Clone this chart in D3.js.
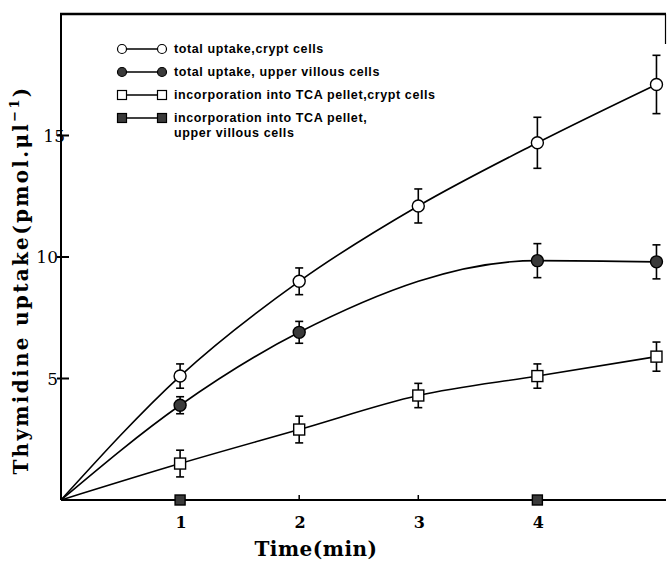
<!DOCTYPE html>
<html>
<head>
<meta charset="utf-8">
<script src="https://d3js.org/d3.v7.min.js"></script>
<style>
  body { margin: 0; background: #fff; }
  svg { display: block; }
</style>
</head>
<body>
<div id="chart"></div>
<script>
// time points (min)
const times = [0, 1, 2, 3, 4, 5];
const xTicks = [1, 2, 3, 4];
const yTicks = [5, 10, 15];

// total uptake, crypt cells
const crypt = [0, 5.1, 9.0, 12.1, 14.7, 17.1];
const cryptErr = [0, 0.5, 0.55, 0.7, 1.05, 1.2];
// total uptake, upper villous cells (no marker at 3 min)
const villTimes = [0, 1, 2, 4, 5];
const vill = [0, 3.9, 6.9, 9.85, 9.8];
const villErr = [0, 0.35, 0.45, 0.7, 0.7];
// incorporation into TCA pellet, crypt cells
const tcaCrypt = [0, 1.5, 2.9, 4.3, 5.1, 5.9];
const tcaCryptErr = [0, 0.55, 0.55, 0.5, 0.5, 0.6];
// incorporation into TCA pellet, upper villous cells
const tcaVillTimes = [0, 1, 4, 5.08];
const tcaVill = [0, 0, 0, 0];
const tcaVillMarks = [1, 4];

const legendLabels = [
  ['total uptake,crypt cells'],
  ['total uptake, upper villous cells'],
  ['incorporation into TCA pellet,crypt cells'],
  ['incorporation into TCA pellet,', 'upper villous cells']
];

const width = 667, height = 567;
const x0 = 61, x1 = 666, yTop = 14, yBot = 500;

const svg = d3.select('#chart').append('svg')
  .attr('width', width).attr('height', height);

const x = d3.scaleLinear().domain([0, 5.08]).range([x0, x1]);
const y = d3.scaleLinear().domain([0, 20]).range([yBot, yTop]);

// frame: left axis, bottom axis, top line, short right stub
svg.append('line').attr('x1', x0).attr('x2', x0).attr('y1', yTop).attr('y2', yBot)
  .attr('stroke', '#000').attr('stroke-width', 2);
svg.append('line').attr('x1', x0).attr('x2', x1).attr('y1', yBot).attr('y2', yBot)
  .attr('stroke', '#000').attr('stroke-width', 2);
svg.append('line').attr('x1', x0 - 1).attr('x2', x1).attr('y1', yTop).attr('y2', yTop)
  .attr('stroke', '#000').attr('stroke-width', 2.4);
svg.append('line').attr('x1', x1 - 0.5).attr('x2', x1 - 0.5).attr('y1', yTop).attr('y2', yTop + 30)
  .attr('stroke', '#000').attr('stroke-width', 1.2);

// x ticks (small, inward)
svg.selectAll('.xt').data(xTicks).enter().append('line')
  .attr('x1', d => x(d)).attr('x2', d => x(d))
  .attr('y1', yBot).attr('y2', yBot - 5)
  .attr('stroke', '#000').attr('stroke-width', 1.5);
svg.selectAll('.xl').data(xTicks).enter().append('text')
  .attr('x', d => x(d) + 1).attr('y', yBot + 28)
  .attr('text-anchor', 'middle')
  .style('font-family', 'DejaVu Serif').style('font-weight', 'bold').style('font-size', '16px')
  .text(d => d);

// y ticks crossing the axis
svg.selectAll('.yt').data(yTicks).enter().append('line')
  .attr('x1', x0 - 4).attr('x2', x0 + 8)
  .attr('y1', d => y(d)).attr('y2', d => y(d))
  .attr('stroke', '#000').attr('stroke-width', 2);
svg.selectAll('.yl').data(yTicks).enter().append('text')
  .attr('x', d => d === 15 ? x0 + 4 : x0 - 3).attr('y', d => y(d) + 6)
  .attr('text-anchor', 'end')
  .style('font-family', 'DejaVu Serif').style('font-size', '17px')
  .text(d => d);

// axis titles
svg.append('text')
  .attr('x', 316).attr('y', 556)
  .attr('text-anchor', 'middle')
  .style('font-family', 'DejaVu Serif').style('font-weight', 'bold').style('font-size', '20px')
  .style('letter-spacing', '0.5px')
  .text('Time(min)');

const yt = svg.append('text')
  .attr('transform', 'translate(28,' + 280 + ') rotate(-90)')
  .attr('text-anchor', 'middle')
  .style('font-family', 'DejaVu Serif').style('font-weight', 'bold').style('font-size', '20px')
  .style('letter-spacing', '2.3px');
yt.append('tspan').text('Thymidine  uptake(pmol.\u03bcl');
yt.append('tspan').attr('dy', -9).style('font-size', '13px').text('\u22121');
yt.append('tspan').attr('dy', 9).text(')');

// lines
const line = d3.line().x(d => x(d[0])).y(d => y(d[1])).curve(d3.curveMonotoneX);
const series = [
  d3.zip(times, crypt),
  d3.zip(villTimes, vill),
  d3.zip(times, tcaCrypt),
  d3.zip(tcaVillTimes, tcaVill)
];
svg.selectAll('.ln').data(series).enter().append('path')
  .attr('d', line).attr('fill', 'none').attr('stroke', '#000').attr('stroke-width', 1.6);

// error bars
function errBars(ts, vs, es) {
  const pts = d3.zip(ts, vs, es).filter(d => d[0] > 0);
  const g = svg.append('g').attr('stroke', '#000').attr('stroke-width', 1.6);
  g.selectAll('.v').data(pts).enter().append('line')
    .attr('x1', d => x(d[0])).attr('x2', d => x(d[0]))
    .attr('y1', d => y(d[1] - d[2])).attr('y2', d => y(d[1] + d[2]));
  g.selectAll('.t').data(pts).enter().append('line')
    .attr('x1', d => x(d[0]) - 4).attr('x2', d => x(d[0]) + 4)
    .attr('y1', d => y(d[1] + d[2])).attr('y2', d => y(d[1] + d[2]));
  g.selectAll('.b').data(pts).enter().append('line')
    .attr('x1', d => x(d[0]) - 4).attr('x2', d => x(d[0]) + 4)
    .attr('y1', d => y(d[1] - d[2])).attr('y2', d => y(d[1] - d[2]));
}
errBars(times, crypt, cryptErr);
errBars(villTimes, vill, villErr);
errBars(times, tcaCrypt, tcaCryptErr);

// markers
function circles(ts, vs, fill) {
  svg.selectAll(null).data(d3.zip(ts, vs).filter(d => d[0] > 0)).enter().append('circle')
    .attr('cx', d => x(d[0])).attr('cy', d => y(d[1])).attr('r', 6)
    .attr('fill', fill).attr('stroke', '#000').attr('stroke-width', 1.4);
}
function squares(ts, vs, fill, s) {
  svg.selectAll(null).data(d3.zip(ts, vs).filter(d => d[0] > 0)).enter().append('rect')
    .attr('x', d => x(d[0]) - s / 2).attr('y', d => y(d[1]) - s / 2)
    .attr('width', s).attr('height', s)
    .attr('fill', fill).attr('stroke', '#000').attr('stroke-width', 1.4);
}
circles(times, crypt, '#fff');
circles(villTimes, vill, '#3a3a3a');
squares(times, tcaCrypt, '#fff', 11);
squares(tcaVillMarks, tcaVillMarks.map(() => 0), '#3a3a3a', 10);

// legend
const lgX = 122, lgY = [49, 72, 95, 118];
const lg = svg.append('g');
lgY.forEach((ly, i) => {
  lg.append('line').attr('x1', lgX).attr('x2', lgX + 40).attr('y1', ly).attr('y2', ly)
    .attr('stroke', '#000').attr('stroke-width', 1.6);
  [lgX, lgX + 40].forEach(mx => {
    if (i < 2) {
      lg.append('circle').attr('cx', mx).attr('cy', ly).attr('r', 4.5)
        .attr('fill', i === 0 ? '#fff' : '#3a3a3a').attr('stroke', '#000').attr('stroke-width', 1.2);
    } else {
      lg.append('rect').attr('x', mx - 4.5).attr('y', ly - 4.5).attr('width', 9).attr('height', 9)
        .attr('fill', i === 2 ? '#fff' : '#3a3a3a').attr('stroke', '#000').attr('stroke-width', 1.2);
    }
  });
  legendLabels[i].forEach((t, k) => {
    lg.append('text').attr('x', lgX + 52).attr('y', ly + 4 + k * 15)
      .style('font-family', 'Liberation Sans').style('font-weight', 'bold').style('font-size', '12.5px')
      .style('letter-spacing', '0.6px')
      .text(t);
  });
});
</script>
</body>
</html>
